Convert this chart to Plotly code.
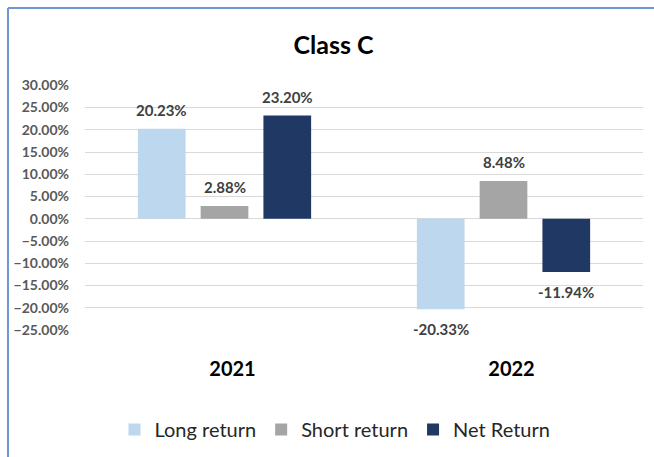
import plotly.graph_objects as go

categories = ["2021", "2022"]
long_return = [0.2023, -0.2033]
short_return = [0.0288, 0.0848]
net_return = [0.2320, -0.1194]
series_names = ["Long return", "Short return", "Net Return"]
colors = ["#BDD7EE", "#A5A5A5", "#203864"]

FONT = "Lato, Open Sans, sans-serif"
BARGAP = 0.325
PLOT_W = 654 - 85 - 11
SLOT_PX = PLOT_W / len(categories) * (1 - BARGAP) / len(series_names)

fig = go.Figure()
for i, (name, vals, col) in enumerate(zip(series_names, [long_return, short_return, net_return], colors)):
    fig.add_trace(go.Bar(
        x=categories, y=vals, name=name, marker=dict(color=col, line=dict(width=0)),
    ))
    for j, v in enumerate(vals):
        # category index j on the category axis
        fig.add_annotation(
            x=j, y=v, xref="x", yref="y", text=f"<b>{v:.2%}</b>", showarrow=False,
            xshift=(i - 1) * SLOT_PX, yshift=19 if v >= 0 else -20,
            xanchor="center", yanchor="middle",
            font=dict(family=FONT, size=15, color="#404040"),
        )

fig.update_layout(
    width=654, height=457,
    margin=dict(l=85, r=11, t=85, b=126, autoexpand=False),
    paper_bgcolor="white", plot_bgcolor="white",
    barmode="group", bargap=BARGAP, bargroupgap=0.24,
    title=dict(text="<b>Class C</b>", x=0.51, xanchor="center", y=0.9, yanchor="middle",
               font=dict(family=FONT, size=25, color="#000000")),
    font=dict(family=FONT),
    showlegend=True,
    legend=dict(orientation="h", x=0.448, xanchor="center", y=-0.40, yanchor="middle",
                font=dict(family=FONT, size=20, color="#262626"), traceorder="normal",
                itemwidth=30),
)
fig.update_yaxes(
    range=[-0.252, 0.3005], autorange=False, dtick=0.05, tick0=0, tickformat=".2%",
    showgrid=True, gridcolor="#D9D9D9", gridwidth=1,
    zeroline=True, zerolinecolor="#D9D9D9", zerolinewidth=1,
    showline=False, ticks="", ticklabelstandoff=15,
    tickfont=dict(family=FONT, size=14, color="#595959", weight="bold"),
)
fig.update_xaxes(
    type="category", categoryorder="array", categoryarray=categories,
    range=[-0.5, len(categories) - 0.5], autorange=False,
    showgrid=False, showline=False, ticks="", ticklabelstandoff=24, ticklabelshift=8,
    tickfont=dict(family=FONT, size=20, color="#000000", weight="bold"),
)
# chart frame (top and left edges visible)
fig.add_shape(type="line", xref="paper", yref="paper", x0=-0.138, x1=1.03, y0=1.313, y1=1.313,
              line=dict(color="#6F95D8", width=2))
fig.add_shape(type="line", xref="paper", yref="paper", x0=-0.138, x1=-0.138, y0=1.313, y1=-0.6,
              line=dict(color="#6F95D8", width=2))

fig.write_html("out.html", config={"displayModeBar": False},
               post_script="document.body.style.margin='0px'; document.body.style.overflow='hidden';")
